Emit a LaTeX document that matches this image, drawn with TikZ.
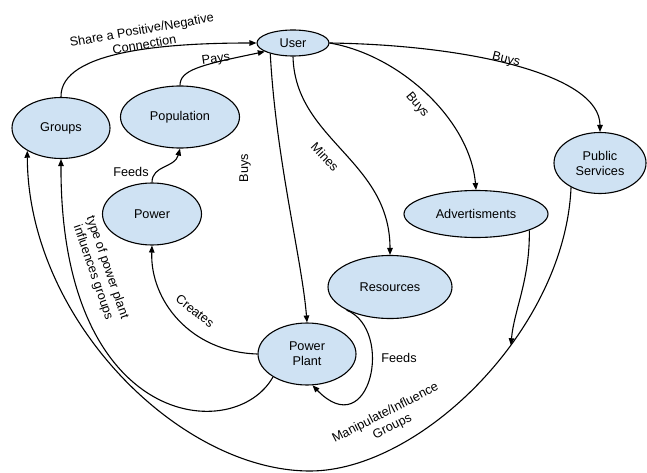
\documentclass[tikz,border=0pt]{standalone}
\usepackage{fontspec}
\setmainfont{Liberation Sans}
\usetikzlibrary{shapes.geometric,arrows.meta}
\definecolor{bubble}{HTML}{CFE2F3}
\newcommand\fsz{\fontsize{12.7}{15}\selectfont}
\begin{document}
\begin{tikzpicture}[x=1pt,y=-1pt,
  ell/.style={ellipse,draw=black,line width=1.1pt,fill=bubble,inner sep=0pt,align=center,font=\fsz},
  conn/.style={line width=1.1pt,-{Triangle[length=7pt,width=5.5pt]}},
  lbl/.style={font=\fsz,align=center,inner sep=0pt}]
\useasboundingbox (0,0) rectangle (647,473);

% nodes
\node[ell,minimum width=72pt,minimum height=26pt] (u) at (293,43) {User};
\node[ell,minimum width=98pt,minimum height=61pt] (g) at (61,128) {Groups};
\node[ell,minimum width=119pt,minimum height=62pt] (p) at (180,117) {Population};
\node[ell,minimum width=99pt,minimum height=62pt] (pw) at (152,214) {Power};
\node[ell,minimum width=92pt,minimum height=61pt] (ps) at (600,163) {Public\\Services};
\node[ell,minimum width=144pt,minimum height=47pt] (a) at (476,214) {Advertisments};
\node[ell,minimum width=124pt,minimum height=63pt] (r) at (390,287) {Resources};
\node[ell,minimum width=98pt,minimum height=62pt] (pp) at (307,354) {Power\\Plant};

% connectors
\draw[conn] (g.north) .. controls (60,50) and (170,43) .. (u.west);
\draw[conn] (p.north) .. controls (180,70) and (200,65) .. (u.197);
\draw[conn] (pw.north) .. controls (152,165) and (175,168) .. (p.south);
\draw[conn] (u.205) .. controls (276,160) and (302,260) .. (pp.north);
\draw[conn] (u.south) .. controls (295,140) and (390,160) .. (r.north);
\draw[conn] (u.east) .. controls (400,55) and (470,120) .. (a.north);
\draw[conn] (u.east) .. controls (470,45) and (600,75) .. (ps.north);
\draw[conn] (pp.west) .. controls (190,352) and (150,300) .. (pw.south);
\draw[conn] (pp.214) .. controls (235,445) and (60,430) .. (g.south);
\draw[conn] (r.208) .. controls (395,330) and (370,445) .. (pp.280);
\draw[conn] (ps.220) .. controls (565,330) and (420,471) .. (310,471) coordinate[pos=0.39] (m)
   .. controls (180,471) and (28,320) .. (g.214);
\draw[conn] (a.-17) .. controls (530,280) and (514,310) .. (m);

% labels
\node[lbl,rotate=10] (l1) at (143,37) {Share a Positive/Negative\\Connection};
\node[lbl,rotate=8] (l2) at (216,60) {Pays};
\node[lbl] (l3) at (131,172) {Feeds};
\node[lbl,rotate=90] (l4) at (245,168) {Buys};
\node[lbl,rotate=-47] (l5) at (325,157) {Mines};
\node[lbl,rotate=-50] (l6) at (417,105) {Buys};
\node[lbl,rotate=-14] (l7) at (506,60) {Buys};
\node[lbl,rotate=-38] (l8) at (195,311) {Creates};
\node[lbl,rotate=-71] (l9) at (100,270) {type of power plant\\influences groups};
\node[lbl] (l10) at (399,358) {Feeds};
\node[lbl,rotate=27] (l11) at (389,420) {Manipulate/Influence\\Groups};
\end{tikzpicture}
\end{document}
